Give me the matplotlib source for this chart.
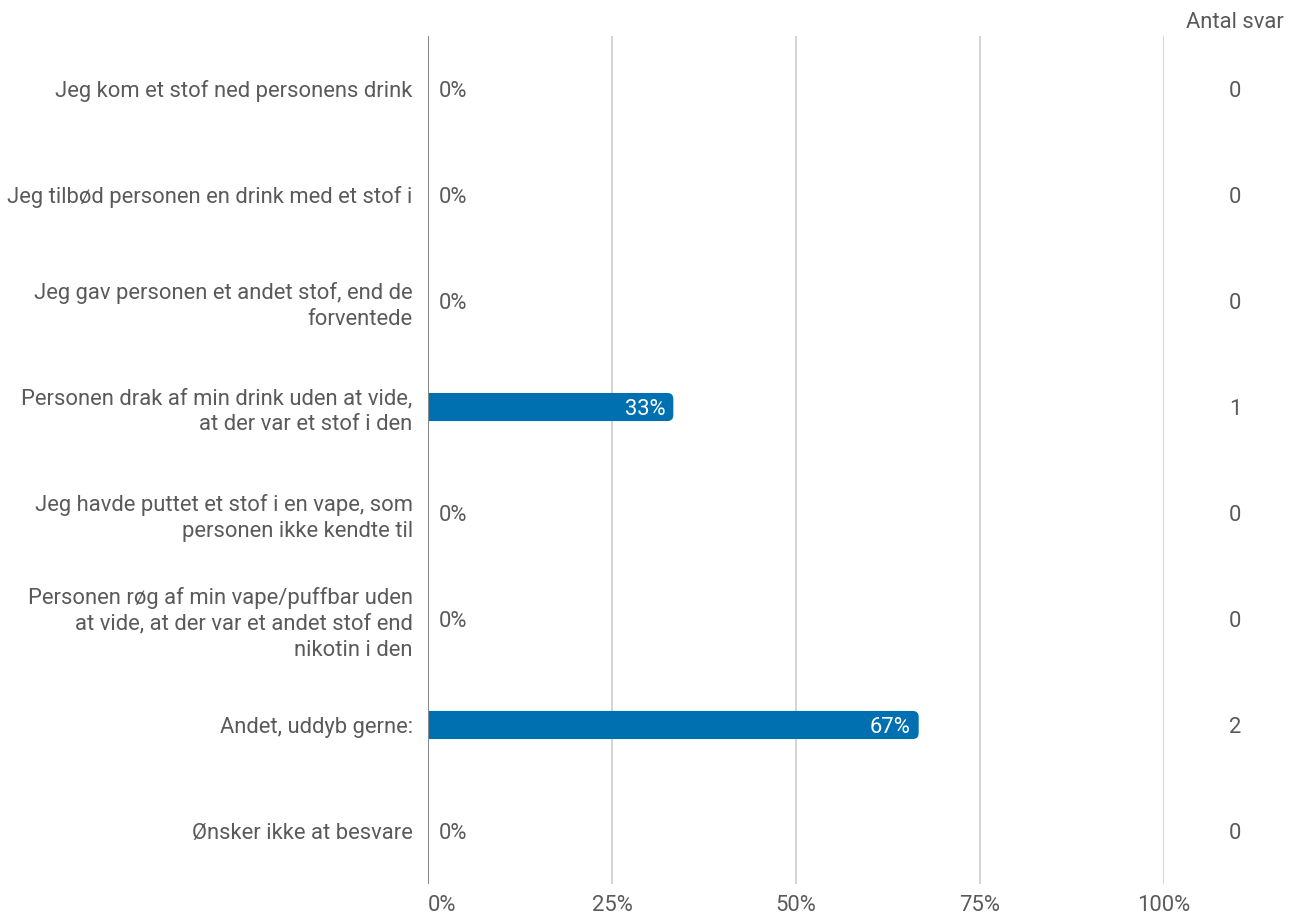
import matplotlib
matplotlib.use("Agg")
import matplotlib.pyplot as plt
import matplotlib.transforms as mtransforms
from matplotlib.patches import FancyBboxPatch
import numpy as np

plt.rcParams['font.family'] = ['Roboto', 'DejaVu Sans']

# Data
labels = ["Jeg kom et stof ned personens drink",
          "Jeg tilbød personen en drink med et stof i",
          "Jeg gav personen et andet stof, end de\nforventede",
          "Personen drak af min drink uden at vide,\nat der var et stof i den",
          "Jeg havde puttet et stof i en vape, som\npersonen ikke kendte til",
          "Personen røg af min vape/puffbar uden\nat vide, at der var et andet stof end\nnikotin i den",
          "Andet, uddyb gerne:",
          "Ønsker ikke at besvare"]
percent = [0, 0, 0, 33.33, 0, 0, 66.67, 0]
counts = [0, 0, 0, 1, 0, 0, 2, 0]
xticks = [0, 25, 50, 75, 100]

text_col = '#5a5a5a'
bar_col = '#0070B0'
fs = 15.8

fig = plt.figure(figsize=(13.02, 9.17), dpi=100)
ax = fig.add_axes([428/1302, 33/917, 736/1302, 848/917])
n = len(labels)
y = np.arange(n)
ax.set_xlim(0, 100)
ax.set_ylim(n - 0.5, -0.5)

# aspect to keep the rounded corners round
xpx = 736 / 100.0
ypx = 848 / n
aspect = xpx / ypx
bh = 0.265
rad = 6 / xpx
for yi, v in zip(y, percent):
    if v > 0:
        p = FancyBboxPatch((-5, yi - bh/2), v + 5, bh,
                           boxstyle="round,pad=0,rounding_size=%f" % rad,
                           mutation_aspect=aspect,
                           fc=bar_col, ec='none', zorder=3, clip_on=True)
        ax.add_patch(p)
        ax.text(v - 1.1, yi, '%d%%' % round(v), color='white', fontsize=fs,
                ha='right', va='center_baseline', zorder=4)
    else:
        ax.text(1.5, yi, '0%', color=text_col, fontsize=fs,
                ha='left', va='center_baseline', zorder=4)

for xt in xticks[1:]:
    ax.axvline(xt, color='#cccccc', lw=1.2, zorder=1)
ax.axvline(0, color='#888888', lw=1.5, zorder=5)

ax.set_xticks(xticks)
ax.set_xticklabels(['%d%%' % t for t in xticks])
ax.get_xticklabels()[0].set_horizontalalignment('left')
ax.set_yticks(y)
ax.set_yticklabels(labels, linespacing=1.3)
ax.tick_params(axis='x', length=0, pad=8, labelsize=fs, labelcolor=text_col)
ax.tick_params(axis='y', length=0, pad=11, labelsize=fs, labelcolor=text_col)
for s in ax.spines.values():
    s.set_visible(False)

# count column
trans = mtransforms.blended_transform_factory(fig.transFigure, ax.transData)
for yi, c in zip(y, counts):
    ax.text(1235/1302, yi, str(c), transform=trans, clip_on=False,
            ha='center', va='center_baseline', fontsize=fs, color=text_col)
fig.text(1235/1302, 1 - 22/917, 'Antal svar', ha='center', va='center',
         fontsize=fs, color=text_col)

fig.savefig('out.png', dpi=100)
